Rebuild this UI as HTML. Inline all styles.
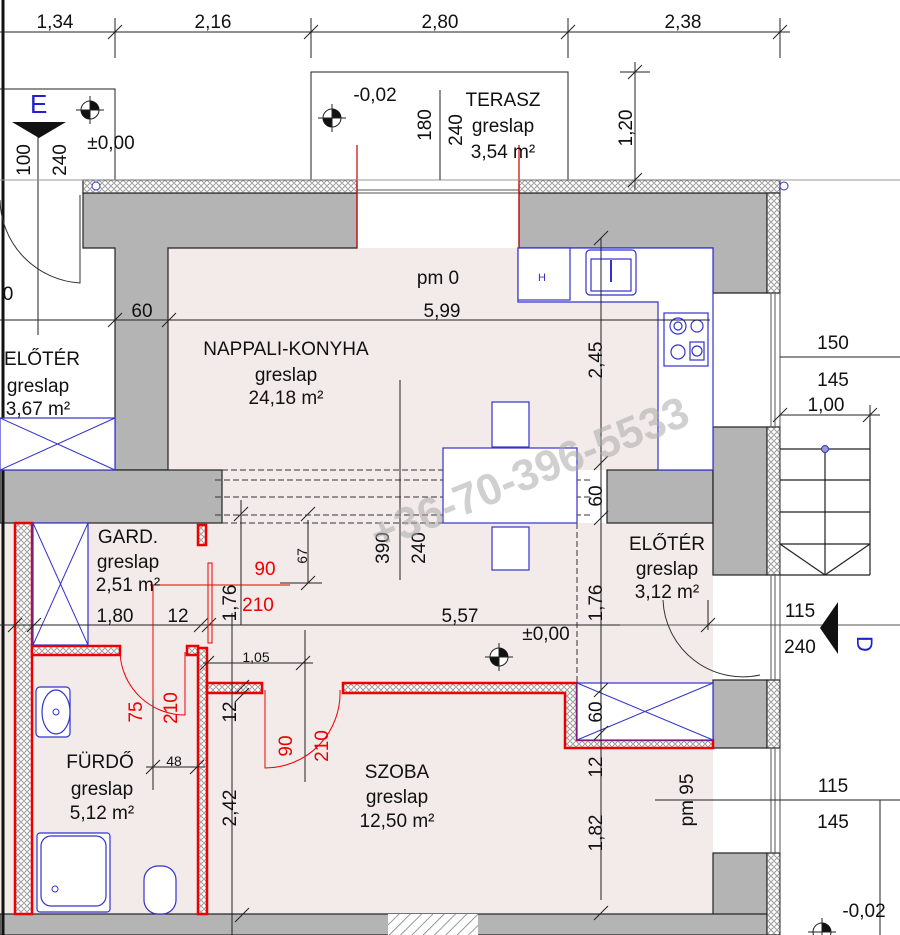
<!DOCTYPE html>
<html><head><meta charset="utf-8"><style>
html,body{margin:0;padding:0;background:#fff;width:900px;height:935px;overflow:hidden}
text{font-family:"Liberation Sans",sans-serif;fill:#111}
</style></head><body>
<svg width="900" height="935" viewBox="0 0 900 935" xmlns="http://www.w3.org/2000/svg">
<defs>
<pattern id="ins" width="6" height="6" patternUnits="userSpaceOnUse"><rect width="6" height="6" fill="#fff"/><circle cx="3" cy="3" r="2.3" fill="none" stroke="#777" stroke-width="0.8"/></pattern>
<pattern id="hat" width="8" height="8" patternUnits="userSpaceOnUse" patternTransform="rotate(45)"><rect width="8" height="8" fill="#fff"/><line x1="0" y1="0" x2="0" y2="8" stroke="#777" stroke-width="1.5"/></pattern>
</defs>
<rect x="168" y="248" width="545" height="222" fill="#f2ebea"/>
<rect x="0" y="523" width="713" height="392" fill="#f2ebea"/>
<rect x="222" y="470" width="221" height="53" fill="#f2ebea"/>
<g fill="#b4b4b4" stroke="#222" stroke-width="1.2">
<path d="M83 193 H357 V248 H168 V470 H115 V248 H83 Z"/>
<path d="M519 193 H767 V293 H713 V248 H519 Z"/>
<rect x="0" y="470" width="222" height="53"/>
<rect x="607" y="470" width="106" height="53"/>
<rect x="713" y="427" width="54" height="148"/>
<rect x="713" y="680" width="54" height="68"/>
<rect x="713" y="853" width="54" height="82"/>
<rect x="0" y="914" width="767" height="21"/>
</g>
<rect x="388" y="914" width="90" height="21" fill="url(#hat)"/>
<g stroke="#222" stroke-width="1.2" fill="url(#ins)">
<rect x="83" y="180" width="274" height="13"/>
<rect x="519" y="180" width="261" height="13"/>
<rect x="767" y="193" width="13" height="100"/>
<rect x="767" y="427" width="13" height="148"/>
<rect x="767" y="680" width="13" height="68"/>
<rect x="767" y="853" width="13" height="82"/>
</g>
<g stroke="#555" stroke-width="1" fill="none">
<line x1="357" y1="190" x2="519" y2="190"/><line x1="357" y1="193" x2="519" y2="193"/>
<line x1="771" y1="293" x2="771" y2="427"/><line x1="775" y1="293" x2="775" y2="427"/>
<line x1="771" y1="575" x2="771" y2="680"/><line x1="775" y1="575" x2="775" y2="680"/>
<line x1="771" y1="748" x2="771" y2="853"/><line x1="775" y1="748" x2="775" y2="853"/>
<line x1="780" y1="180" x2="780" y2="935"/>
</g>
<line x1="357" y1="145" x2="357" y2="248" stroke="#c00" stroke-width="1.2"/>
<line x1="519" y1="145" x2="519" y2="248" stroke="#c00" stroke-width="1.2"/>
<g stroke="#333" stroke-width="1" stroke-dasharray="6,3">
<line x1="222" y1="470" x2="443" y2="470"/><line x1="215" y1="480" x2="590" y2="480"/>
<line x1="215" y1="497" x2="590" y2="497"/><line x1="215" y1="515" x2="590" y2="515"/>
<line x1="222" y1="523" x2="443" y2="523"/>
<line x1="577" y1="523" x2="577" y2="683"/>
</g>
<line x1="3" y1="0" x2="3" y2="935" stroke="#111" stroke-width="3"/>
<g fill="url(#ins)" stroke="#e00" stroke-width="2.5">
<rect x="15" y="523" width="17" height="391"/>
<rect x="198" y="648" width="9" height="266"/>
<rect x="32" y="646" width="88" height="9"/>
<rect x="187" y="646" width="11" height="9"/>
<rect x="198" y="525" width="8" height="20"/>
<path d="M207 683 H262 V693 H207 Z"/>
<path d="M343 683 H577 V740 H713 V748 H565 V693 H343 Z"/>
</g>
<g fill="#fff" stroke="#33c" stroke-width="1.2">
<path d="M518 248 H713 V470 H658 V302 H518 Z"/>
<rect x="518" y="248" width="52" height="52"/>
<rect x="586" y="250" width="50" height="45" rx="4"/>
<rect x="591" y="259" width="40" height="32"/>
<rect x="664" y="313" width="44" height="53"/>
<circle cx="678" cy="326" r="8"/><circle cx="678" cy="326" r="4"/><circle cx="697" cy="326" r="6"/>
<circle cx="678" cy="352" r="7"/><rect x="690" y="342" width="14" height="18"/><circle cx="697" cy="351" r="5"/>
<rect x="443" y="448" width="134" height="75"/>
<rect x="492" y="402" width="37" height="45"/>
<rect x="492" y="527" width="37" height="43"/>
<rect x="33" y="523" width="55" height="122"/>
<rect x="0" y="418" width="115" height="52"/>
<rect x="577" y="683" width="136" height="57"/>
<rect x="37" y="833" width="73" height="79" rx="3"/>
<rect x="41" y="836" width="65" height="70" rx="10"/>
<rect x="144" y="866" width="32" height="48" rx="14"/>
<rect x="36" y="687" width="34" height="50" rx="4"/>
<ellipse cx="56" cy="712" rx="14" ry="22"/>
</g>
<g stroke="#33c" stroke-width="1" fill="none">
<line x1="0" y1="418" x2="115" y2="470"/><line x1="0" y1="470" x2="115" y2="418"/>
<line x1="33" y1="523" x2="88" y2="645"/><line x1="88" y1="523" x2="33" y2="645"/>
<line x1="577" y1="683" x2="713" y2="740"/><line x1="713" y1="683" x2="577" y2="740"/>
<line x1="611" y1="260" x2="611" y2="282" stroke-width="2"/>
</g>
<text x="538" y="281" font-size="11" style="fill:#33c">H</text>
<circle cx="56" cy="712" r="3" fill="none" stroke="#33c"/><circle cx="55" cy="889" r="3" fill="none" stroke="#33c"/>
<g stroke="#222" stroke-width="1.2" fill="none">
<line x1="780" y1="449" x2="870" y2="449"/><line x1="780" y1="480" x2="870" y2="480"/>
<line x1="780" y1="512" x2="870" y2="512"/><line x1="780" y1="544" x2="870" y2="544"/>
<line x1="780" y1="575" x2="870" y2="575"/><line x1="870" y1="420" x2="870" y2="575"/>
<line x1="825" y1="449" x2="825" y2="575"/><line x1="780" y1="544" x2="825" y2="575"/><line x1="870" y1="544" x2="825" y2="575"/>
</g>
<circle cx="825" cy="449" r="3.5" fill="#99c" stroke="#33c"/>
<circle cx="96" cy="186" r="4" fill="#fff" stroke="#33c"/><circle cx="784" cy="186" r="4" fill="#fff" stroke="#33c"/>
<g stroke="#222" stroke-width="1" fill="none">
<line x1="0" y1="32" x2="790" y2="32"/>
<line x1="115" y1="18" x2="115" y2="58"/><line x1="311" y1="18" x2="311" y2="58"/><line x1="568" y1="18" x2="568" y2="58"/><line x1="780" y1="18" x2="780" y2="58"/>
<path d="M108 39 L122 25 M304 39 L318 25 M561 39 L575 25 M773 39 L787 25"/>
<path d="M0 89 H115 V180 M311 180 V72 H568 V180"/>
<line x1="38" y1="135" x2="38" y2="335"/><line x1="0" y1="180" x2="900" y2="180" stroke="#999"/>
<line x1="0" y1="320" x2="710" y2="320"/><path d="M108 327 L122 313 M162 327 L176 313"/>
<line x1="601" y1="238" x2="601" y2="900"/><path d="M594 245 L608 231"/>
<line x1="635" y1="62" x2="635" y2="190"/><line x1="620" y1="72" x2="650" y2="72"/><path d="M628 79 L642 65 M628 187 L642 173"/>
<line x1="400" y1="380" x2="400" y2="580"/><line x1="440" y1="90" x2="440" y2="180"/>
<line x1="780" y1="357" x2="900" y2="357"/><line x1="780" y1="415" x2="880" y2="415"/><path d="M773 422 L787 408 M863 422 L877 408"/><line x1="870" y1="405" x2="870" y2="430"/>
<line x1="0" y1="625" x2="620" y2="625"/><line x1="620" y1="625" x2="900" y2="625" stroke="#555"/>
<path d="M8 632 L22 618 M27 632 L41 618 M194 632 L208 618 M202 632 L216 618 M232 613 V935"/>
<line x1="241" y1="500" x2="241" y2="625"/><line x1="308" y1="520" x2="308" y2="583"/><line x1="280" y1="583" x2="322" y2="583"/><path d="M234 521 L248 507 M301 590 L315 576 M301 521 L315 507"/>
<line x1="203" y1="663" x2="313" y2="663"/><path d="M200 670 L214 656 M296 670 L310 656"/>
<line x1="305" y1="630" x2="305" y2="782"/>
<path d="M235 694 L249 680 M235 702 L249 688 M235 922 L249 908 M594 920 L608 906 M594 740 L608 726 M594 697 L608 683 M594 525 L608 511 M594 470 L608 456"/>
<line x1="153" y1="700" x2="153" y2="790"/><line x1="146" y1="767" x2="205" y2="767"/><path d="M146 774 L160 760 M190 774 L204 760"/>
<line x1="655" y1="800" x2="900" y2="800"/><line x1="708" y1="600" x2="708" y2="630"/><path d="M701 632 L715 618"/>
<line x1="880" y1="800" x2="880" y2="935"/>
</g>
<g stroke="#333" stroke-width="1" fill="none">
<path d="M0 200 A 85 85 0 0 0 80 283 V195"/>
<path d="M663 600 A 80 80 0 0 0 760 675"/>
</g>
<g stroke="#e00" stroke-width="1" fill="none">
<path d="M120 652 A65 65 0 0 0 185 715 V652"/>
<path d="M265 690 V768 A75 75 0 0 0 340 690"/>
<line x1="153" y1="585" x2="153" y2="700"/><line x1="150" y1="585" x2="290" y2="585"/>
<rect x="208" y="563" width="4" height="80"/>
</g>
<g>
<circle cx="90" cy="110" r="9" fill="#fff" stroke="#222"/><path d="M90 101 A9 9 0 0 1 99 110 H90 Z M90 119 A9 9 0 0 1 81 110 H90Z" fill="#111"/><line x1="76" y1="110" x2="104" y2="110" stroke="#222"/><line x1="90" y1="96" x2="90" y2="124" stroke="#222"/>
<circle cx="332" cy="118" r="9" fill="#fff" stroke="#222"/><path d="M332 109 A9 9 0 0 1 341 118 H332 Z M332 127 A9 9 0 0 1 323 118 H332Z" fill="#111"/><line x1="318" y1="118" x2="346" y2="118" stroke="#222"/><line x1="332" y1="104" x2="332" y2="132" stroke="#222"/>
<circle cx="499" cy="657" r="9" fill="#fff" stroke="#222"/><path d="M499 648 A9 9 0 0 1 508 657 H499 Z M499 666 A9 9 0 0 1 490 657 H499Z" fill="#111"/><line x1="485" y1="657" x2="513" y2="657" stroke="#222"/><line x1="499" y1="643" x2="499" y2="671" stroke="#222"/>
<circle cx="822" cy="932" r="9" fill="#fff" stroke="#222"/><path d="M822 923 A9 9 0 0 1 831 932 H822 Z" fill="#111"/><line x1="808" y1="932" x2="836" y2="932" stroke="#222"/><line x1="822" y1="918" x2="822" y2="935" stroke="#222"/>
<path d="M12 122 H66 L39 138 Z" fill="#111"/>
<path d="M838 602 V654 L820 628 Z" fill="#111"/>
</g>
<text x="30" y="113" font-size="26" style="fill:#22c">E</text>
<text x="865" y="628" font-size="22" style="fill:#22c" transform="rotate(90 857 628)">D</text>
<g font-size="19" text-anchor="middle">
<text x="55" y="28">1,34</text><text x="213" y="28">2,16</text><text x="440" y="28">2,80</text><text x="683" y="28">2,38</text>
<text x="375" y="101">-0,02</text><text x="503" y="106">TERASZ</text><text x="503" y="132">greslap</text><text x="503" y="158">3,54 m²</text>
<text x="111" y="149">±0,00</text>
<text x="8" y="300">0</text>
<text x="438" y="284">pm 0</text><text x="442" y="317">5,99</text><text x="142" y="317">60</text>
<text x="286" y="355">NAPPALI-KONYHA</text><text x="286" y="381">greslap</text><text x="286" y="404">24,18 m²</text>
<text x="42" y="365">ELŐTÉR</text><text x="38" y="392">greslap</text><text x="38" y="415">3,67 m²</text>
<text x="128" y="543">GARD.</text><text x="128" y="568">greslap</text><text x="128" y="591">2,51 m²</text>
<text x="115" y="622">1,80</text><text x="178" y="622">12</text>
<text x="460" y="622">5,57</text><text x="546" y="640">±0,00</text>
<text x="667" y="550">ELŐTÉR</text><text x="667" y="575">greslap</text><text x="667" y="598">3,12 m²</text>
<text x="833" y="349">150</text><text x="833" y="386">145</text><text x="826" y="411">1,00</text>
<text x="800" y="617">115</text><text x="800" y="653">240</text>
<text x="833" y="792">115</text><text x="833" y="828">145</text>
<text x="864" y="917">-0,02</text>
<text x="100" y="768">FÜRDŐ</text><text x="102" y="795">greslap</text><text x="102" y="819">5,12 m²</text>
<text x="397" y="778">SZOBA</text><text x="397" y="803">greslap</text><text x="397" y="827">12,50 m²</text>
</g>
<g font-size="14" text-anchor="middle"><text x="256" y="662">1,05</text><text x="174" y="766">48</text></g>
<g font-size="19" text-anchor="middle"><text x="265" y="575" style="fill:#e00">90</text><text x="258" y="611" style="fill:#e00">210</text></g>
<g font-size="19" text-anchor="middle">
<text transform="translate(30,160) rotate(-90)">100</text>
<text transform="translate(66,160) rotate(-90)">240</text>
<text transform="translate(431,125) rotate(-90)">180</text>
<text transform="translate(462,130) rotate(-90)">240</text>
<text transform="translate(632,128) rotate(-90)">1,20</text>
<text transform="translate(602,360) rotate(-90)">2,45</text>
<text transform="translate(602,496) rotate(-90)">60</text>
<text transform="translate(389,548) rotate(-90)">390</text>
<text transform="translate(425,548) rotate(-90)">240</text>
<text transform="translate(236,603) rotate(-90)">1,76</text>
<text transform="translate(602,603) rotate(-90)">1,76</text>
<text transform="translate(236,712) rotate(-90)">12</text>
<text transform="translate(236,808) rotate(-90)">2,42</text>
<text transform="translate(602,712) rotate(-90)">60</text>
<text transform="translate(602,767) rotate(-90)">12</text>
<text transform="translate(602,833) rotate(-90)">1,82</text>
<text transform="translate(693,800) rotate(-90)">pm 95</text>
</g>
<text transform="translate(307,556) rotate(-90)" font-size="14" text-anchor="middle">67</text>
<g font-size="19" text-anchor="middle">
<text transform="translate(142,712) rotate(-90)" style="fill:#e00">75</text>
<text transform="translate(177,708) rotate(-90)" style="fill:#e00">210</text>
<text transform="translate(292,746) rotate(-90)" style="fill:#e00">90</text>
<text transform="translate(328,746) rotate(-90)" style="fill:#e00">210</text>
</g>
<text transform="translate(535,487) rotate(-22)" font-size="44" font-weight="bold" text-anchor="middle" style="fill:#aaa;opacity:0.55">+36-70-396-5533</text>
</svg>
</body></html>
